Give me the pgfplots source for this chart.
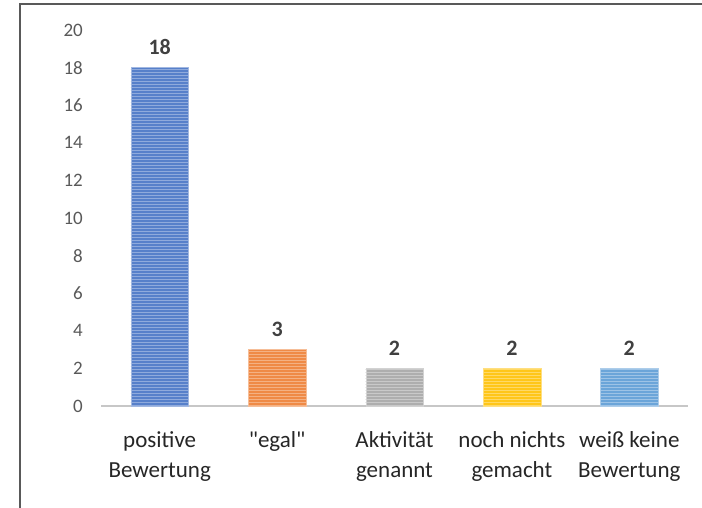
\documentclass[border=0pt]{standalone}
\usepackage{fontspec}
\setmainfont{Carlito}[Ligatures=TeXOff]
\usepackage{pgfplots}
\pgfplotsset{compat=1.18}
\usetikzlibrary{patterns}
\definecolor{cblue}{HTML}{4472C4}
\definecolor{corange}{HTML}{ED7D31}
\definecolor{cgray}{HTML}{A5A5A5}
\definecolor{cgold}{HTML}{FFC000}
\definecolor{clblue}{HTML}{5B9BD5}
\begin{document}
\begin{tikzpicture}
\useasboundingbox (0pt,0pt) rectangle (702pt,508pt);
\draw[line width=2pt, color=black!65] (20pt,-2pt) -- (20pt,504pt) -- (704pt,504pt);
\begin{axis}[
  at={(101pt,102pt)}, anchor=south west,
  width=587pt, height=376pt, scale only axis,
  xmin=-0.5, xmax=4.5, ymin=0, ymax=20,
  ytick={0,2,...,20}, xtick={0,...,4},
  xticklabels={{positive\\Bewertung},{"egal"},{Aktivität\\genannt},{noch nichts\\gemacht},{weiß keine\\Bewertung}},
  major tick length=0pt,
  axis x line*=bottom, axis y line*=left,
  axis line style={-},
  y axis line style={draw=none},
  x axis line style={draw=black!22, line width=1.5pt},
  /pgf/number format/assume math mode=true,
  ybar, bar width=57.6pt, bar shift=0pt,
  nodes near coords,
  every node near coord/.append style={font=\fontsize{22}{26}\selectfont\bfseries, color=black!75, anchor=base, yshift=13pt, inner sep=0pt},
  yticklabel style={font=\fontsize{19}{22}\selectfont, color=black!65, anchor=east, inner sep=0pt, xshift=-18pt},
  xticklabel style={font=\fontsize{23}{30}\selectfont, color=black!85, align=center, anchor=north, inner sep=0pt, yshift=-25pt},
  clip=false,
]
\addplot[fill=cblue!90!white, draw=cblue!50!white, postaction={pattern=horizontal lines, pattern color=cblue!60!white}] coordinates {(0,18)};
\addplot[fill=corange!90!white, draw=corange!50!white, postaction={pattern=horizontal lines, pattern color=corange!60!white}] coordinates {(1,3)};
\addplot[fill=cgray!90!white, draw=cgray!50!white, postaction={pattern=horizontal lines, pattern color=cgray!60!white}] coordinates {(2,2)};
\addplot[fill=cgold!90!white, draw=cgold!50!white, postaction={pattern=horizontal lines, pattern color=cgold!60!white}] coordinates {(3,2)};
\addplot[fill=clblue!90!white, draw=clblue!50!white, postaction={pattern=horizontal lines, pattern color=clblue!60!white}] coordinates {(4,2)};
\end{axis}
\end{tikzpicture}
\end{document}
